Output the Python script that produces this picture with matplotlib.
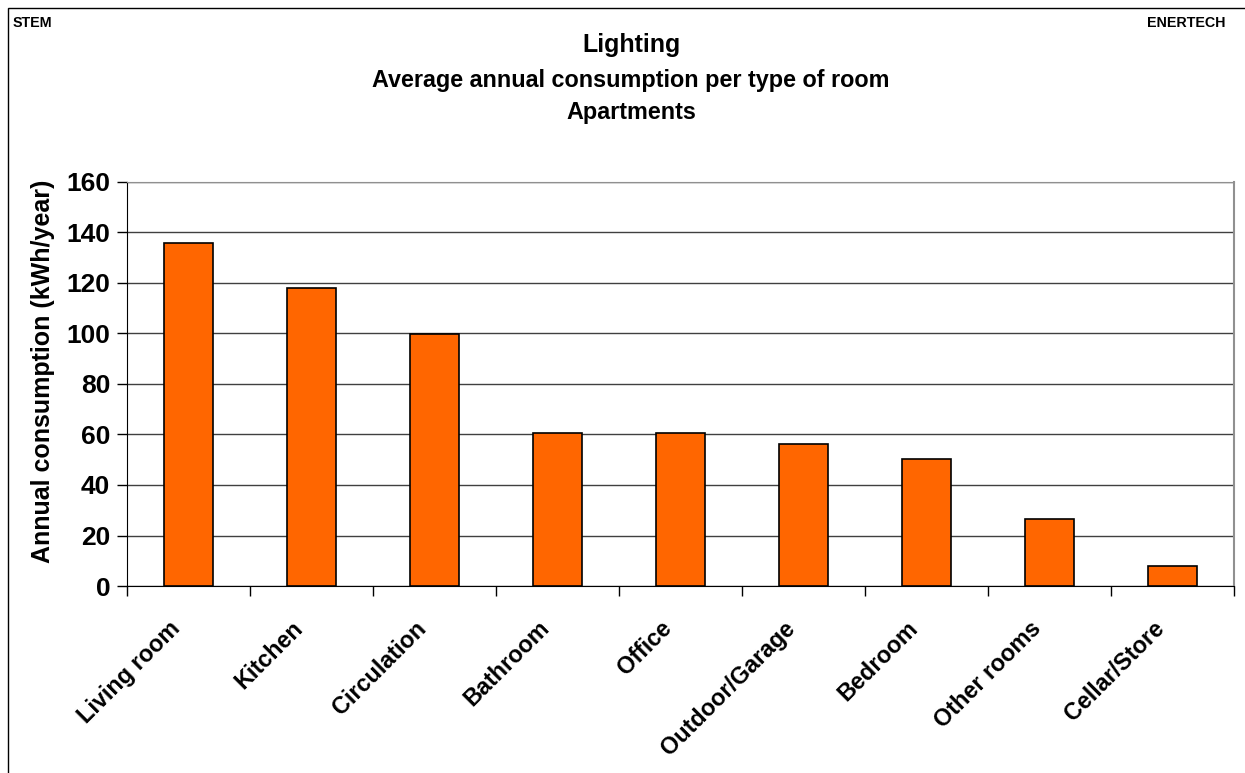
import numpy as np
import matplotlib.pyplot as plt
import matplotlib.transforms as mtransforms
from matplotlib.patches import Rectangle

plt.rcParams['font.family'] = ['Liberation Sans', 'DejaVu Sans']
plt.rcParams['font.weight'] = 'bold'

# ---- data ----
rooms = ["Living room", "Kitchen", "Circulation", "Bathroom", "Office",
         "Outdoor/Garage", "Bedroom", "Other rooms", "Cellar/Store"]
consumption = [135.8, 118.2, 99.6, 60.7, 60.5, 56.4, 50.3, 26.5, 7.9]
y_ticks = [0, 20, 40, 60, 80, 100, 120, 140, 160]

fig = plt.figure(figsize=(12.45, 7.73), dpi=100)
ax = fig.add_axes([0.102, 0.2419, 0.889, 0.5227])

# outer chart frame (runs off right / bottom edge)
fig.add_artist(Rectangle((8 / 1245, -0.5), 2, 1.5 - 8 / 773,
                         transform=fig.transFigure, fill=False,
                         edgecolor='black', lw=1.0))

x = np.arange(len(rooms))
ax.bar(x, consumption, width=0.4, color='#FF6600', edgecolor='black',
       linewidth=1.2, zorder=3)

ax.set_xlim(-0.5, len(rooms) - 0.5)
ax.set_ylim(0, 160)
ax.set_yticks(y_ticks)
ax.yaxis.grid(True, color='#404040', linewidth=1.0, zorder=0)
ax.tick_params(axis='y', labelsize=19, length=7, width=1, direction='out', pad=5)

# category ticks at boundaries, labels at centers
ax.set_xticks(np.arange(len(rooms) + 1) - 0.5)
ax.set_xticklabels([])
ax.tick_params(axis='x', length=7, width=1, direction='out')
ax.set_xticks(x, minor=True)
ax.set_xticklabels(rooms, minor=True, rotation=45, ha='right',
                   rotation_mode='anchor', fontsize=16.8, fontweight='bold')
ax.tick_params(axis='x', which='minor', length=0, pad=22)
shift = mtransforms.ScaledTranslation(-20 / 100, 0, fig.dpi_scale_trans)
for lbl in ax.get_xticklabels(minor=True):
    lbl.set_transform(lbl.get_transform() + shift)

ax.spines['left'].set_color('black')
ax.spines['bottom'].set_color('black')
ax.spines['top'].set_color('#909090')
ax.spines['right'].set_color('#909090')
ax.spines['right'].set_linewidth(1.5)

ax.set_ylabel("Annual consumption (kWh/year)", fontsize=18, fontweight='bold')
ax.yaxis.set_label_coords(-0.065, 0.532)

fig.text(0.507, 1 - 45 / 773, "Lighting", ha='center', va='center',
         fontsize=18, fontweight='bold')
fig.text(0.507, 1 - 80 / 773, "Average annual consumption per type of room",
         ha='center', va='center', fontsize=16.8, fontweight='bold')
fig.text(0.507, 1 - 112 / 773, "Apartments", ha='center', va='center',
         fontsize=16.8, fontweight='bold')
fig.text(13 / 1245, 1 - 23 / 773, "STEM", ha='left', va='center',
         fontsize=10.3, fontweight='bold')
fig.text(1225 / 1245, 1 - 23 / 773, "ENERTECH", ha='right', va='center',
         fontsize=10.3, fontweight='bold')

fig.savefig("out.png", dpi=100)
